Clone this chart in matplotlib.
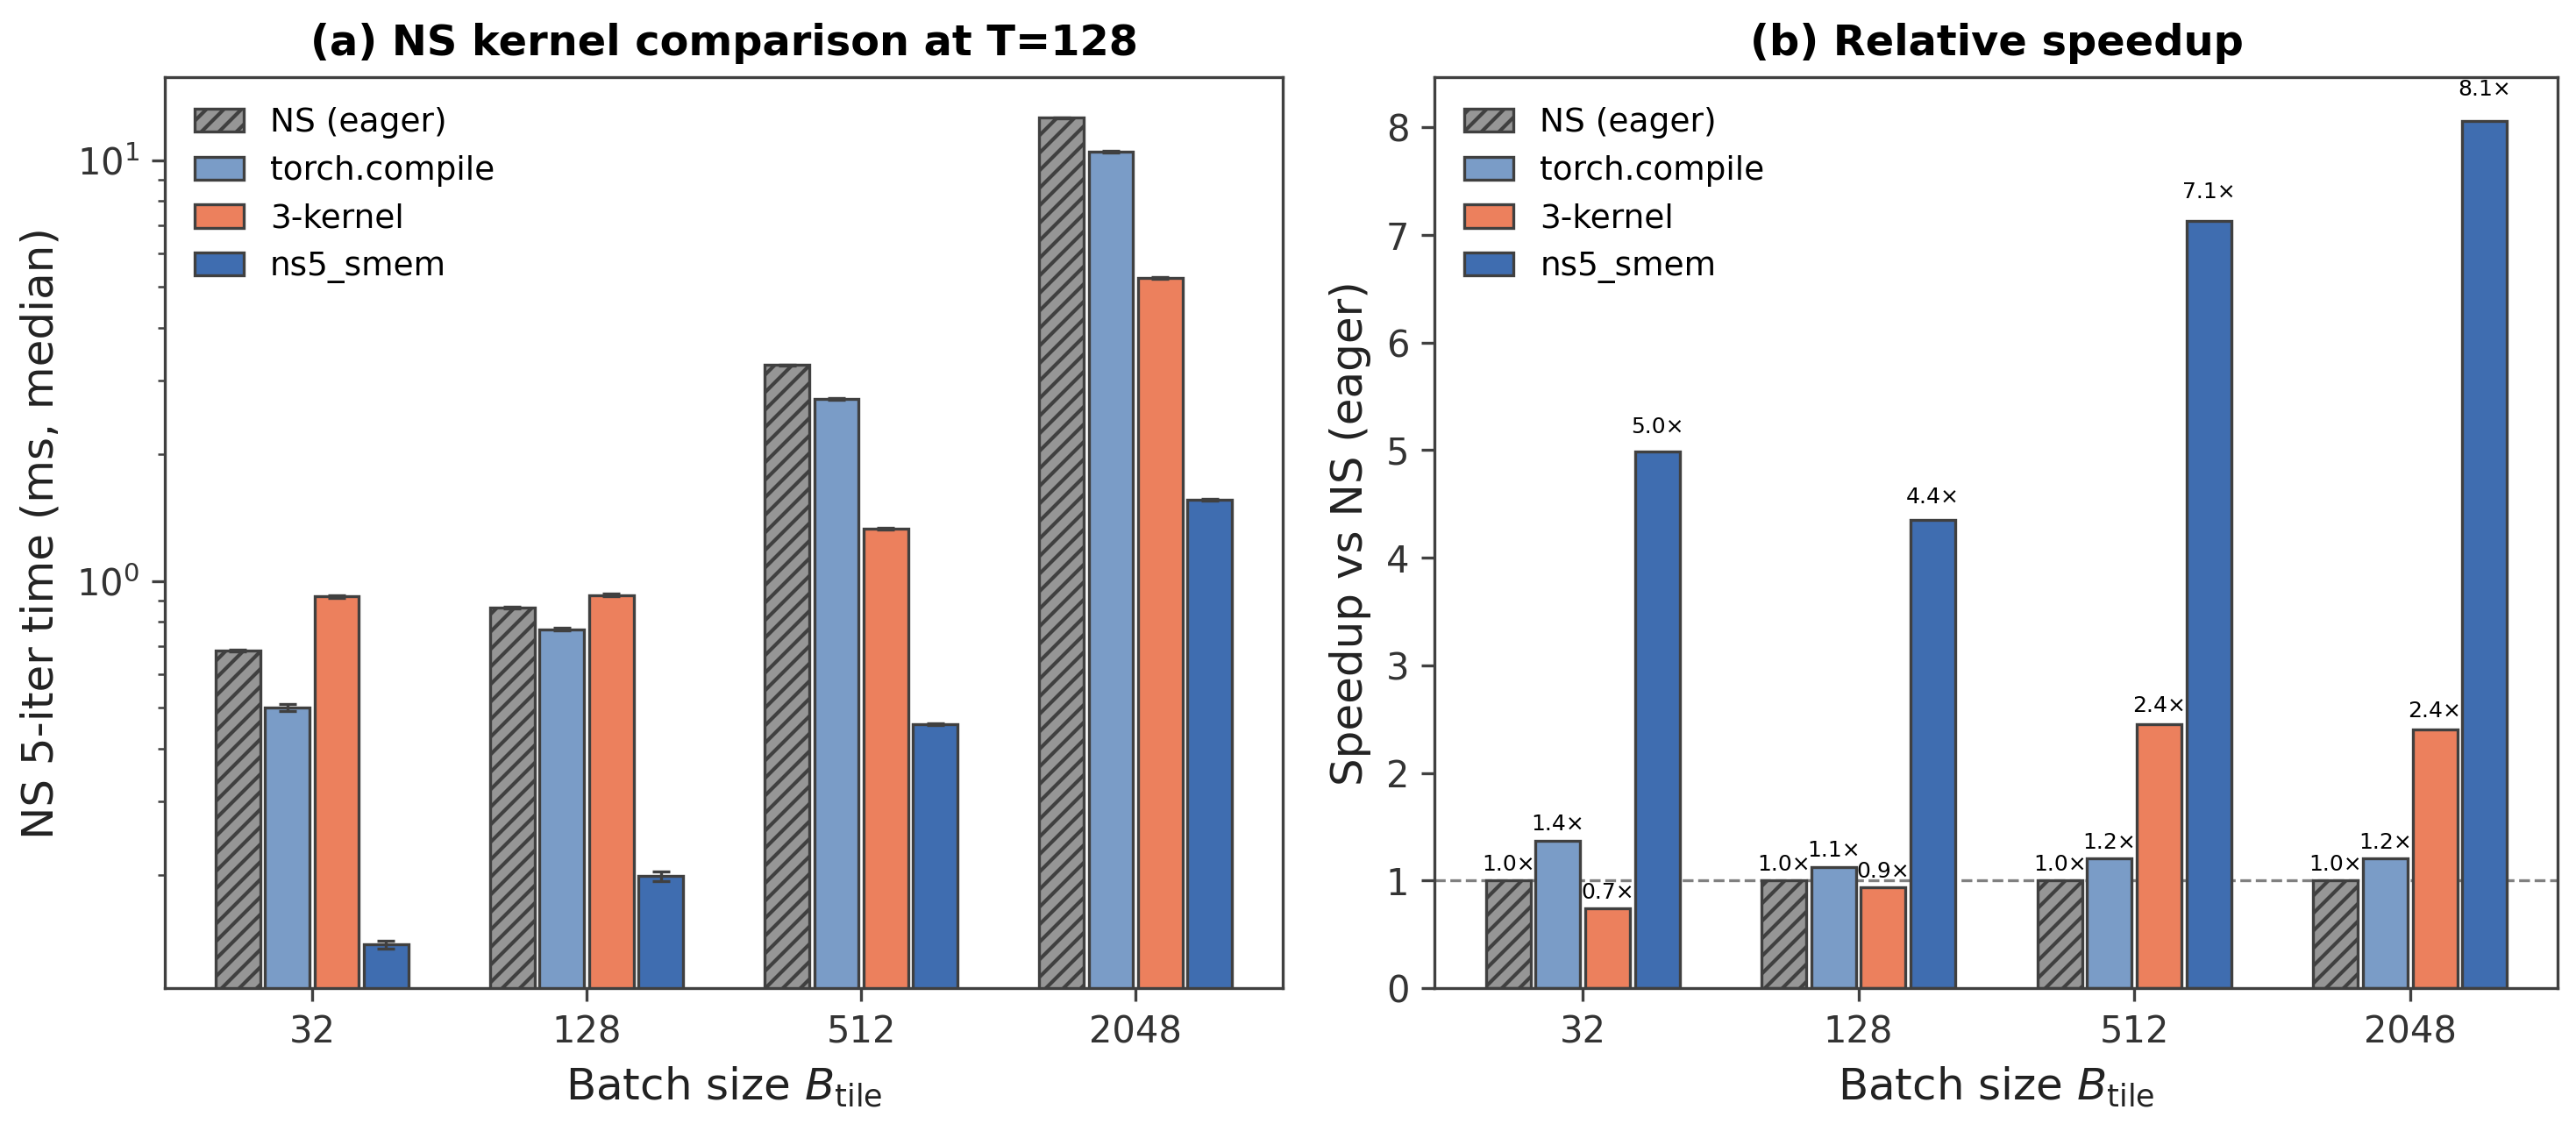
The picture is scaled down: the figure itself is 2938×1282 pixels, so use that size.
import numpy as np
import matplotlib
matplotlib.use("Agg")
import matplotlib.pyplot as plt

# tamanhos de lote e metodos
batch_sizes = ["32", "128", "512", "2048"]
metodos = ["NS (eager)", "torch.compile", "3-kernel", "ns5_smem"]

# tempo mediano (ms) de 5 iteracoes, T=128
t_eager = [0.683, 0.866, 3.26, 12.6]
t_compile = [0.500, 0.769, 2.71, 10.47]
t_3kernel = [0.919, 0.927, 1.331, 5.25]
t_smem = [0.137, 0.199, 0.457, 1.563]

# desvio (ms)
e_eager = [0.004, 0.004, 0.01, 0.03]
e_compile = [0.010, 0.005, 0.01, 0.03]
e_3kernel = [0.008, 0.006, 0.006, 0.02]
e_smem = [0.003, 0.005, 0.003, 0.008]

cores = ["#969696", "#7a9cc7", "#ec805d", "#3f6db0"]
hachuras = ["/////", None, None, None]
cor_borda = "#404040"

plt.rcParams["font.family"] = ["DejaVu Sans"]
plt.rcParams["axes.edgecolor"] = "#404040"
plt.rcParams["xtick.color"] = "#404040"
plt.rcParams["ytick.color"] = "#404040"
plt.rcParams["xtick.labelcolor"] = "#333333"
plt.rcParams["ytick.labelcolor"] = "#333333"
plt.rcParams["axes.labelcolor"] = "#222222"
plt.rcParams["hatch.color"] = "#404040"
plt.rcParams["hatch.linewidth"] = 1.0

tempos = [t_eager, t_compile, t_3kernel, t_smem]
erros = [e_eager, e_compile, e_3kernel, e_smem]
speedups = [list(np.array(t_eager) / np.array(t)) for t in tempos]

fig = plt.figure(figsize=(2938 / 300, 1282 / 300), dpi=300)
ax1 = fig.add_axes([0.064, 0.121, 0.434, 0.810])
ax2 = fig.add_axes([0.557, 0.121, 0.436, 0.810])

x = np.arange(len(batch_sizes))
passo = 0.18
largura = 0.162

for i, nome in enumerate(metodos):
    pos = x + (i - 1.5) * passo
    ax1.bar(pos, tempos[i], largura, color=cores[i], edgecolor=cor_borda,
            linewidth=0.8, hatch=hachuras[i], label=nome,
            yerr=erros[i], capsize=2.5,
            error_kw=dict(ecolor="#404040", elinewidth=0.8, capthick=0.8))
    barras = ax2.bar(pos, speedups[i], largura, color=cores[i], edgecolor=cor_borda,
                     linewidth=0.8, hatch=hachuras[i], label=nome)
    for b, v in zip(barras, speedups[i]):
        ax2.text(b.get_x() + b.get_width() / 2, v * 1.02 + 0.03, f"{v:.1f}\u00d7",
                 ha="center", va="bottom", fontsize=6)

ax1.set_yscale("log")
ax1.set_ylim(0.108, 15.7)
ax1.set_xticks(x)
ax1.set_xticklabels(batch_sizes)
ax1.set_xlabel(r"Batch size $B_{\mathrm{tile}}$", fontsize=12)
ax1.set_ylabel("NS 5-iter time (ms, median)", fontsize=12)
ax1.set_title("(a) NS kernel comparison at T=128", fontsize=11.5, fontweight="bold")
ax1.legend(loc="upper left", frameon=False, fontsize=9, handlelength=1.5)

ax2.axhline(1.0, color="gray", linestyle="--", linewidth=0.8, zorder=0)
ax2.set_xticks(x)
ax2.set_xticklabels(batch_sizes)
ax2.set_xlabel(r"Batch size $B_{\mathrm{tile}}$", fontsize=12)
ax2.set_ylabel("Speedup vs NS (eager)", fontsize=12)
ax2.set_title("(b) Relative speedup", fontsize=11.5, fontweight="bold")
ax2.legend(loc="upper left", frameon=False, fontsize=9, handlelength=1.5)

for ax in (ax1, ax2):
    ax.tick_params(labelsize=10)
    ax.tick_params(which="major", length=3.5, width=0.8)
    ax.tick_params(which="minor", length=2, width=0.6)
    for s in ax.spines.values():
        s.set_linewidth(0.8)

fig.savefig("out.png", dpi=300)
